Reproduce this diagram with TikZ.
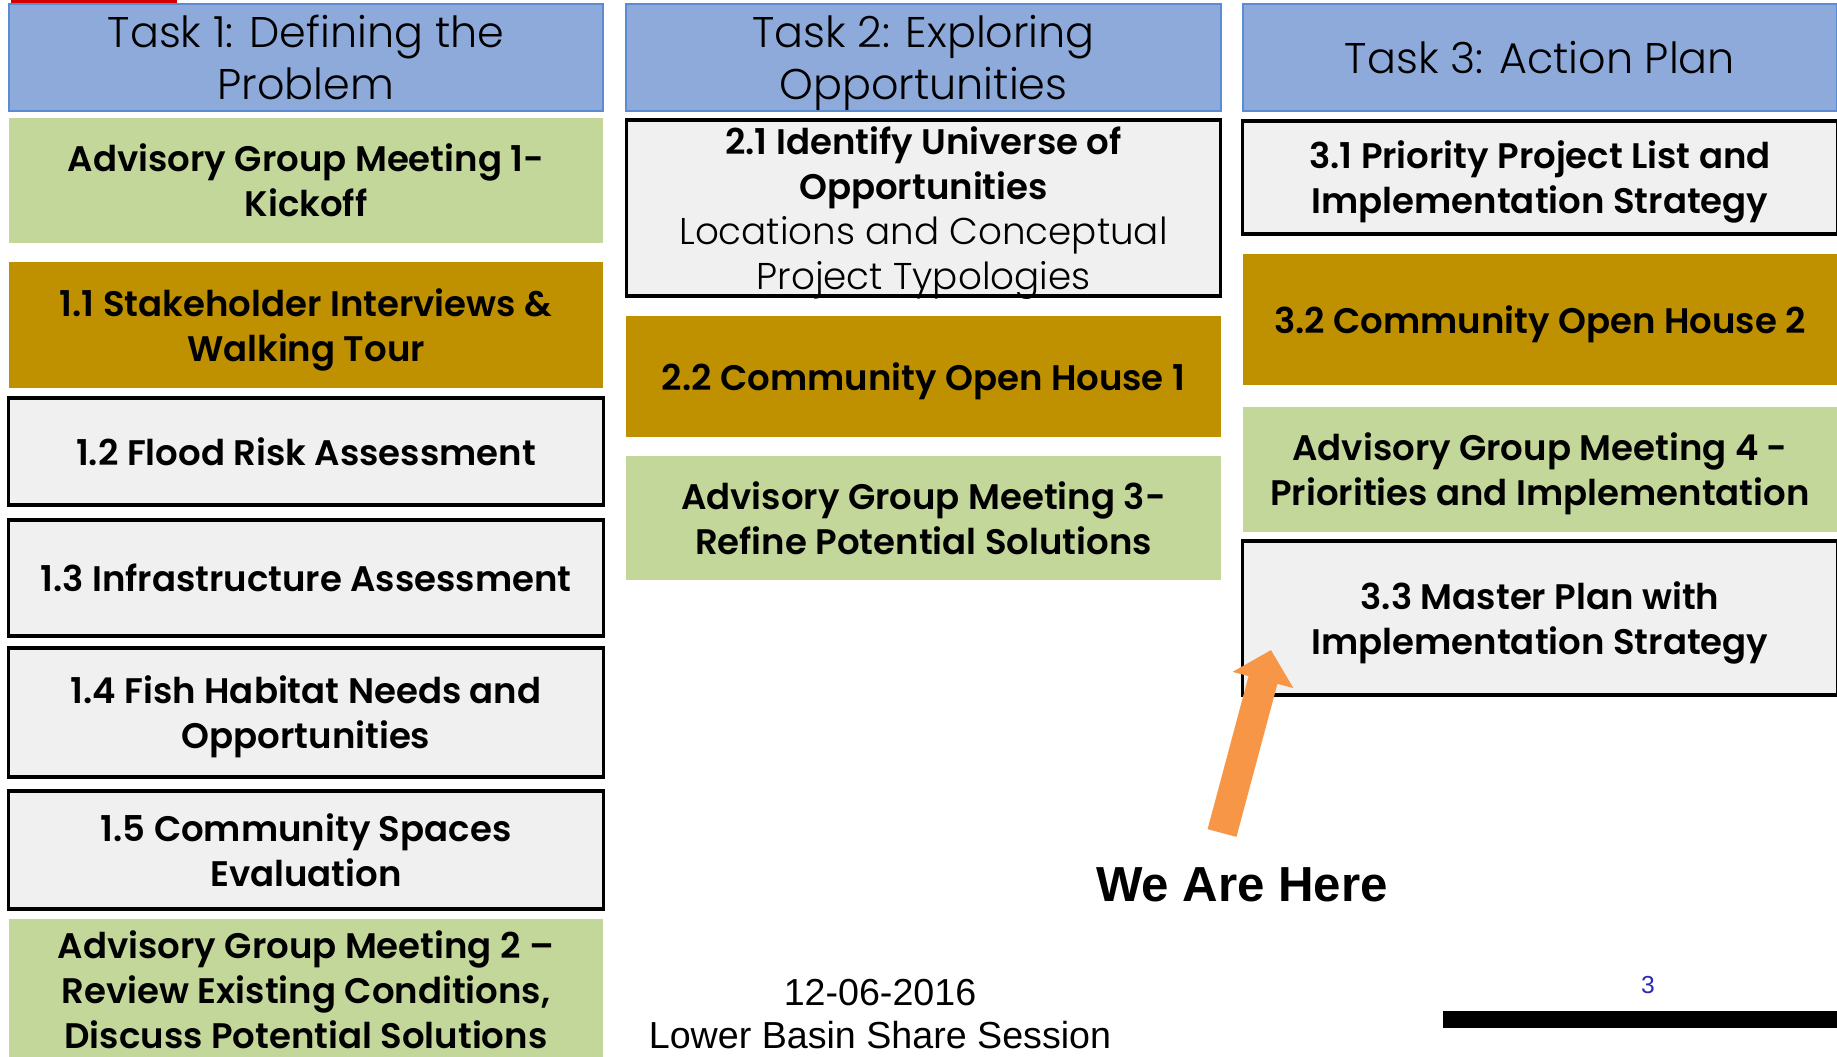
\documentclass[tikz,border=0pt]{standalone}
\usepackage{fontspec}
\setmainfont{Poppins}[UprightFont={* Light}, BoldFont={* SemiBold}]
\newfontfamily\arialfont{Liberation Sans}
\usetikzlibrary{arrows.meta}
\definecolor{headblue}{HTML}{8EAADB}
\definecolor{headline}{HTML}{5B8BD0}
\definecolor{meetgreen}{HTML}{C4D79B}
\definecolor{housegold}{HTML}{BF9000}
\definecolor{taskgrey}{HTML}{F0F0F0}
\definecolor{hereorange}{HTML}{F79646}
\definecolor{pageblue}{HTML}{2A2AB4}
\definecolor{slidered}{HTML}{D40000}

\begin{document}
\begin{tikzpicture}[
  x=0.01cm, y=-0.01cm,
  taskhead/.style={draw=headline, line width=0.6pt, fill=headblue, minimum width=5.94cm,
    minimum height=1.07cm, align=center, inner sep=0pt, text depth=0pt,
    font=\fontsize{12.2}{14.8}\selectfont},
  boxbase/.style={minimum width=5.94cm, align=center, inner sep=0pt, text depth=0pt,
    font=\fontsize{10.1}{12.8}\selectfont\bfseries},
  meeting/.style={boxbase, fill=meetgreen},
  openhouse/.style={boxbase, fill=housegold},
  subtask/.style={boxbase, draw=black, line width=0.9pt, fill=taskgrey},
  herearrow/.style={hereorange, line width=8.5pt, -{Triangle[width=0.61cm, length=0.31cm]}}
]
\fill[white] (0,0) rectangle (1837,1056);
\useasboundingbox (0,0) rectangle (1837,1056);

% Slide leftovers
\fill[slidered] (11,0) rectangle (177,4);

% Task 1
\node[taskhead] (task1) at (306,57.5) {Task 1: Defining the\\Problem};
\node[meeting, minimum height=1.25cm] (agm1) at (306,180.5) {Advisory Group Meeting 1-\\Kickoff};
\node[openhouse, minimum height=1.26cm] (t11) at (306,325) {1.1 Stakeholder Interviews \&\\Walking Tour};
\node[subtask, minimum height=1.07cm] (t12) at (306,451.5) {1.2 Flood Risk Assessment};
\node[subtask, minimum height=1.16cm] (t13) at (306,578) {1.3 Infrastructure Assessment};
\node[subtask, minimum height=1.29cm] (t14) at (306,712.5) {1.4 Fish Habitat Needs and\\Opportunities};
\node[subtask, minimum height=1.18cm] (t15) at (306,850) {1.5 Community Spaces\\Evaluation};
\node[meeting, minimum height=1.42cm] (agm2) at (306,990) {Advisory Group Meeting 2 --\\Review Existing Conditions,\\Discuss Potential Solutions};

% Task 2
\node[taskhead] (task2) at (923.5,57.5) {Task 2: Exploring\\Opportunities};
\node[subtask, minimum height=1.76cm] (t21) at (923.5,208) {2.1 Identify Universe of\\Opportunities\\\mdseries\fontsize{10.6}{12.8}\selectfont Locations and Conceptual\\\mdseries\fontsize{10.6}{12.8}\selectfont Project Typologies};
\node[openhouse, minimum height=1.21cm] (t22) at (923.5,376.5) {2.2 Community Open House 1};
\node[meeting, minimum height=1.24cm] (agm3) at (923.5,518) {Advisory Group Meeting 3-\\Refine Potential Solutions};

% Task 3
\node[taskhead] (task3) at (1540,57.5) {Task 3: Action Plan};
\node[subtask, minimum height=1.13cm] (t31) at (1540,177.5) {3.1 Priority Project List and\\Implementation Strategy};
\node[openhouse, minimum height=1.31cm] (t32) at (1540,319.5) {3.2 Community Open House 2};
\node[meeting, minimum height=1.25cm] (agm4) at (1540,469.5) {Advisory Group Meeting 4 -\\Priorities and Implementation};
\node[subtask, minimum height=1.54cm] (t33) at (1540,618) {3.3 Master Plan with\\Implementation Strategy};

% We are here
\node[font=\arialfont\bfseries\fontsize{14}{16}\selectfont] (here) at (1242,885) {We Are Here};
\coordinate (arrowtail) at (1222,833);
\coordinate (arrowtip) at (1271,650);
\draw[herearrow] (arrowtail) -- (arrowtip);

% Footer
\node[font=\arialfont\fontsize{10.7}{12.3}\selectfont, align=center] (date) at (880,1014) {12-06-2016\\Lower Basin Share Session};
\node[font=\arialfont\fontsize{7}{8}\selectfont, text=pageblue] (pagenum) at (1648,985) {3};
\fill (1443,1011) rectangle (1837,1028);

\end{tikzpicture}
\end{document}
